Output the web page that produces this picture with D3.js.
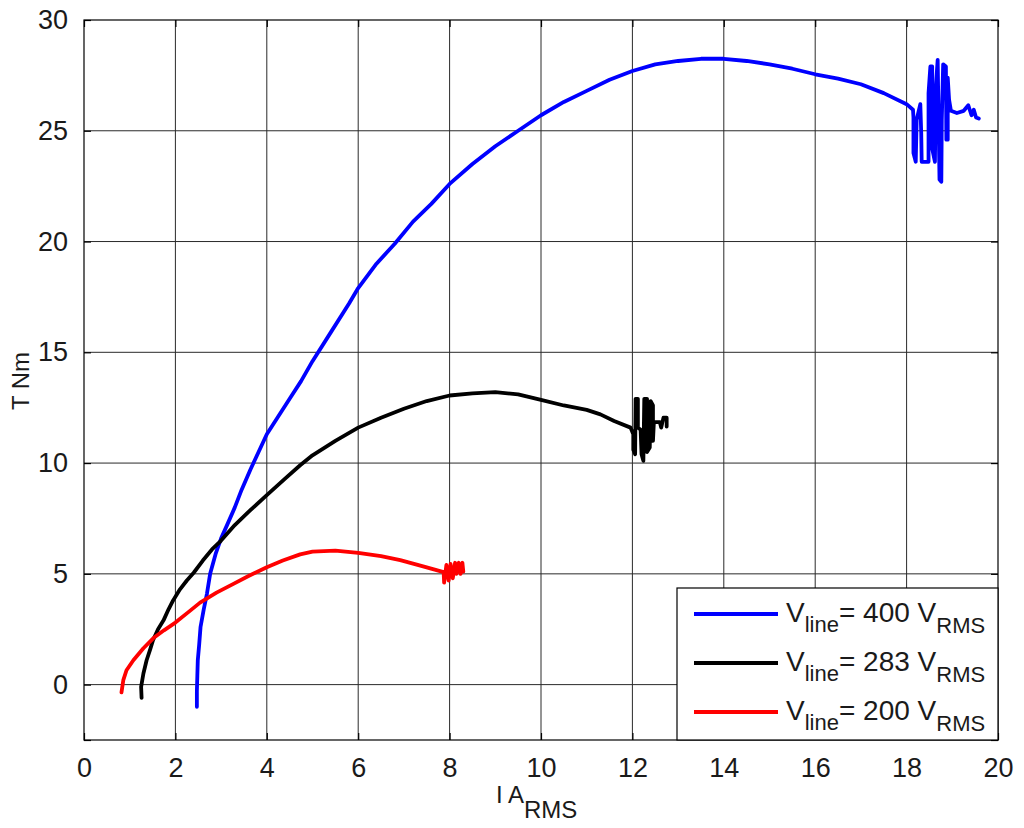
<!DOCTYPE html>
<html>
<head>
<meta charset="utf-8">
<script src="https://cdn.jsdelivr.net/npm/d3@7"></script>
<style>
  html, body { margin: 0; padding: 0; background: #fff; }
  svg { display: block; font-family: "Liberation Sans", Arial, sans-serif; }
</style>
</head>
<body>
<svg id="chart" width="1024" height="828"></svg>
<script>
// ---- data ----
const xTicks = [0, 2, 4, 6, 8, 10, 12, 14, 16, 18, 20];
const yTicks = [-2.5, 0, 5, 10, 15, 20, 25, 30];
const yTickLabels = ["", "0", "5", "10", "15", "20", "25", "30"];

// V_line = 400 V_RMS  [I A_RMS, T Nm]
const series400 = [
  [2.47,-1.0],[2.47,-0.3],[2.48,0.4],[2.49,1.1],[2.52,1.8],[2.55,2.6],[2.62,3.4],[2.69,4.1],
  [2.76,5.0],[2.88,5.9],[3.0,6.6],[3.13,7.2],[3.3,8.0],[3.45,8.8],[3.64,9.7],[3.82,10.5],
  [4.0,11.3],[4.25,12.1],[4.5,12.9],[4.75,13.7],[5.0,14.6],[5.4,15.9],[5.8,17.2],[6.0,17.9],
  [6.4,19.0],[6.8,19.9],[7.2,20.9],[7.6,21.7],[8.0,22.6],[8.5,23.5],[9.0,24.3],[9.5,25.0],
  [10.0,25.7],[10.5,26.3],[11.0,26.8],[11.5,27.3],[12.0,27.7],[12.5,28.0],[13.0,28.15],
  [13.5,28.25],[14.0,28.25],[14.5,28.15],[15.0,28.0],[15.5,27.8],[16.0,27.55],[16.5,27.35],
  [17.0,27.1],[17.5,26.7],[18.0,26.2],[18.14,25.95],
  [18.15,25.6],[18.15,24.0],[18.2,23.6],[18.22,25.5],[18.3,26.2],[18.32,24.9],[18.33,23.6],
  [18.48,23.6],[18.48,26.7],[18.52,27.9],[18.56,27.9],[18.56,24.2],[18.62,23.6],[18.64,27.0],
  [18.68,28.2],[18.72,22.8],[18.76,22.7],[18.77,25.5],[18.8,28.0],[18.86,27.9],[18.87,24.6],
  [18.9,24.6],[18.9,27.4],[18.93,26.4],[18.97,25.9],[19.1,25.8],[19.25,25.9],[19.35,26.15],
  [19.42,25.7],[19.47,25.95],[19.52,25.6],[19.58,25.55]
];

// V_line = 283 V_RMS
const series283 = [
  [1.26,-0.6],[1.25,-0.1],[1.3,0.5],[1.37,1.1],[1.45,1.6],[1.51,2.0],[1.62,2.5],[1.74,2.9],
  [1.85,3.4],[1.95,3.8],[2.1,4.3],[2.25,4.7],[2.4,5.05],[2.6,5.6],[2.8,6.1],[3.0,6.5],
  [3.3,7.2],[3.6,7.8],[4.0,8.55],[4.4,9.3],[4.73,9.9],[5.0,10.35],[5.5,11.0],[6.0,11.6],
  [6.5,12.05],[7.0,12.45],[7.5,12.8],[8.0,13.05],[8.5,13.15],[9.0,13.2],[9.5,13.1],
  [10.0,12.85],[10.5,12.6],[11.0,12.4],[11.3,12.2],[11.6,11.9],[11.96,11.6],
  [12.02,11.3],[12.02,10.6],[12.06,10.4],[12.07,12.9],[12.12,12.9],[12.12,11.6],[12.18,11.5],
  [12.2,10.4],[12.24,10.1],[12.26,12.9],[12.32,12.9],[12.32,10.5],[12.38,10.7],[12.4,12.8],
  [12.45,12.6],[12.45,11.0],[12.47,11.85],[12.6,11.85],[12.63,11.6],[12.68,12.05],
  [12.75,12.05],[12.75,11.65]
];

// V_line = 200 V_RMS
const series200 = [
  [0.82,-0.35],[0.86,0.2],[0.93,0.65],[1.08,1.1],[1.3,1.64],[1.52,2.1],[1.75,2.45],[2.0,2.8],
  [2.27,3.25],[2.54,3.7],[2.9,4.15],[3.27,4.55],[3.6,4.9],[4.0,5.3],[4.35,5.6],
  [4.73,5.88],[5.0,6.0],[5.5,6.05],[6.0,5.95],[6.5,5.8],[6.92,5.62],[7.4,5.35],[7.87,5.08],
  [7.88,4.6],[7.93,5.4],[7.98,4.7],[8.02,5.45],[8.07,4.8],[8.12,5.5],[8.15,5.0],[8.2,5.5],
  [8.24,5.0],[8.28,5.5],[8.3,5.1]
];

const seriesNames = ["400", "283", "200"];
const seriesColors = ["#0000ff", "#000000", "#ff0000"];
const allSeries = [series400, series283, series200];

// ---- layout ----
const svg = d3.select("#chart");
const L = 84, R = 998, T = 20, B = 740;

const x = d3.scaleLinear().domain([0, 20]).range([L, R]);
const y = d3.scaleLinear().domain([-2.5, 30]).range([B, T]);

// grid
const grid = svg.append("g");
grid.selectAll("line.gx").data(xTicks.slice(1, -1)).enter().append("line")
  .attr("x1", d => x(d)).attr("x2", d => x(d)).attr("y1", T).attr("y2", B)
  .attr("stroke", "#2a2a2a").attr("stroke-width", 1);
grid.selectAll("line.gy").data(yTicks.slice(1, -1)).enter().append("line")
  .attr("y1", d => y(d)).attr("y2", d => y(d)).attr("x1", L).attr("x2", R)
  .attr("stroke", "#2a2a2a").attr("stroke-width", 1);

// axes with inward ticks
const tickLen = 7;
const xAxisB = d3.axisBottom(x).tickValues(xTicks).tickSize(-tickLen).tickPadding(18).tickFormat(d3.format("d"));
const xAxisT = d3.axisTop(x).tickValues(xTicks).tickSize(-tickLen).tickFormat("");
const yAxisL = d3.axisLeft(y).tickValues(yTicks).tickSize(-tickLen).tickPadding(16)
  .tickFormat((d, i) => yTickLabels[i]);
const yAxisR = d3.axisRight(y).tickValues(yTicks).tickSize(-tickLen).tickFormat("");

function styleAxis(g) {
  g.select(".domain").remove();
  g.selectAll(".tick line").attr("stroke", "#000").attr("stroke-width", 1.2);
  g.selectAll(".tick text").attr("fill", "#1a1a1a").style("font-size", "27px")
    .style("font-family", "'Liberation Sans', Arial, sans-serif");
}
svg.append("g").attr("transform", `translate(0,${B})`).call(xAxisB).call(styleAxis);
svg.append("g").attr("transform", `translate(0,${T})`).call(xAxisT).call(styleAxis);
svg.append("g").attr("transform", `translate(${L},0)`).call(yAxisL).call(styleAxis);
svg.append("g").attr("transform", `translate(${R},0)`).call(yAxisR).call(styleAxis);

// box
svg.append("rect").attr("x", L).attr("y", T).attr("width", R - L).attr("height", B - T)
  .attr("fill", "none").attr("stroke", "#000").attr("stroke-width", 1.2);

// curves
const line = d3.line().x(d => x(d[0])).y(d => y(d[1])).curve(d3.curveLinear);
svg.append("clipPath").attr("id", "plotclip").append("rect")
  .attr("x", L).attr("y", T).attr("width", R - L).attr("height", B - T);
svg.append("g").attr("clip-path", "url(#plotclip)")
  .selectAll("path").data(allSeries).enter().append("path")
  .attr("d", line)
  .attr("fill", "none")
  .attr("stroke", (d, i) => seriesColors[i])
  .attr("stroke-width", 3.8)
  .attr("stroke-linejoin", "round")
  .attr("stroke-linecap", "round");

// axis labels
svg.append("text")
  .attr("transform", `translate(29,381) rotate(-90)`)
  .attr("text-anchor", "middle")
  .style("font-size", "24px").attr("fill", "#1a1a1a")
  .text("T Nm");

const xl = svg.append("text").attr("x", 496).attr("y", 803)
  .style("font-size", "24px").attr("fill", "#1a1a1a");
xl.append("tspan").text("I A");
xl.append("tspan").attr("dy", 15).text("RMS");

// legend
const lg = svg.append("g");
lg.append("rect").attr("x", 677).attr("y", 588).attr("width", R - 677).attr("height", B - 588)
  .attr("fill", "#fff").attr("stroke", "#000").attr("stroke-width", 1.2);
seriesNames.forEach((name, i) => {
  const cy = 614 + i * 49;
  lg.append("line").attr("x1", 694).attr("x2", 778).attr("y1", cy).attr("y2", cy)
    .attr("stroke", seriesColors[i]).attr("stroke-width", 4);
  const t = lg.append("text").attr("x", 786).attr("y", cy + 8)
    .style("font-size", "28px").attr("fill", "#1a1a1a");
  t.append("tspan").text("V");
  t.append("tspan").attr("dy", 10).style("font-size", "22px").text("line");
  t.append("tspan").attr("dy", -10).text("= " + name + " V");
  t.append("tspan").attr("dy", 11).style("font-size", "22px").text("RMS");
});
</script>
</body>
</html>
